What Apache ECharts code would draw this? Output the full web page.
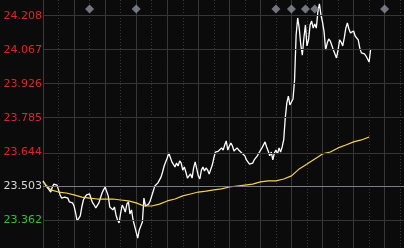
<!DOCTYPE html>
<html>
<head>
<meta charset="utf-8">
<script src="https://cdn.jsdelivr.net/npm/echarts@6/dist/echarts.min.js"></script>
<style>
html,body{margin:0;padding:0;background:#0b0b0b;}
#c{width:404px;height:248px;}
</style>
</head>
<body>
<div id="c"></div>
<script>
// Reference (previous close) price
const prevClose = 23.503;
// Y-axis tick labels
const yTicks = [24.208, 24.067, 23.926, 23.785, 23.644, 23.503, 23.362];
// Price per minute (minute 0 .. 211)
const priceValues = [
23.524,23.516,23.503,23.495,23.487,23.478,23.499,23.511,23.516,23.507,
23.487,23.466,23.453,23.445,23.457,23.449,23.453,23.437,23.441,23.433,
23.420,23.391,23.358,23.350,23.379,23.416,23.445,23.457,23.466,23.474,
23.470,23.449,23.433,23.424,23.412,23.404,23.433,23.453,23.474,23.487,
23.499,23.507,23.462,23.416,23.408,23.404,23.416,23.383,23.362,23.350,
23.391,23.424,23.412,23.395,23.428,23.437,23.387,23.404,23.362,23.337,
23.312,23.287,23.321,23.337,23.354,23.453,23.420,23.412,23.428,23.441,
23.449,23.482,23.503,23.503,23.516,23.524,23.540,23.561,23.586,23.603,
23.619,23.640,23.636,23.603,23.598,23.582,23.598,23.586,23.607,23.598,
23.569,23.582,23.561,23.536,23.528,23.553,23.536,23.578,23.603,23.603,
23.545,23.532,23.569,23.582,23.565,23.578,23.569,23.553,23.561,23.590,
23.619,23.644,23.652,23.648,23.640,23.661,23.652,23.673,23.690,23.652,
23.669,23.681,23.669,23.648,23.640,23.661,23.652,23.644,23.640,23.632,
23.628,23.611,23.611,23.594,23.586,23.598,23.611,23.619,23.628,23.640,
23.644,23.661,23.669,23.686,23.665,23.648,23.628,23.644,23.611,23.640,
23.652,23.636,23.661,23.644,23.665,23.694,23.785,23.847,23.876,23.839,
23.835,23.864,23.943,24.129,24.200,24.158,24.088,24.046,24.117,24.171,
24.084,24.109,24.171,24.187,24.158,24.175,24.158,24.225,24.258,24.212,
24.183,24.142,24.067,24.096,24.113,24.104,24.096,24.067,24.059,24.034,
24.067,24.109,24.100,24.084,24.117,24.158,24.179,24.154,24.138,24.133,
24.146,24.125,24.117,24.109,24.075,24.055,24.063,24.051,24.042,24.038,
24.017,24.071
];
// Average price, read every 5 minutes
const avgMinutes = [0,5,10,15,20,25,30,35,40,45,50,55,60,65,70,75,80,85,90,95,100,
  105,110,115,120,125,130,135,140,145,150,155,160,165,170,175,180,185,190,195,200,205,210];
const avgValues = [23.520,23.487,23.478,23.474,23.466,23.457,23.453,23.449,23.449,23.449,23.445,
  23.441,23.433,23.420,23.420,23.428,23.441,23.449,23.462,23.470,23.478,
  23.482,23.487,23.491,23.499,23.503,23.507,23.511,23.520,23.524,23.524,
  23.532,23.545,23.574,23.594,23.615,23.636,23.644,23.661,23.673,23.686,23.694,23.706];
// Event markers (minute)
const eventMinutes = [30, 60, 150, 160, 169, 175, 220];
const eventLevel = 24.237;

const chart = echarts.init(document.getElementById('c'), null, {renderer: 'canvas'});
const font = 'DejaVu Sans';
const option = {
  animation: false,
  backgroundColor: '#0b0b0b',
  grid: {left: 43, top: 0, width: 372.7, height: 248, containLabel: false, outerBoundsMode: 'none'},
  xAxis: [
    {type: 'value', min: 0, max: 240, interval: 20,
     axisLine: {show: false}, axisTick: {show: false}, axisLabel: {show: false},
     splitLine: {show: true, lineStyle: {color: '#363636', width: 1, type: 'solid'}}},
    {type: 'value', min: 0, max: 240, interval: 10, position: 'bottom',
     axisLine: {show: false}, axisTick: {show: false}, axisLabel: {show: false},
     splitLine: {show: true, lineStyle: {color: '#3a3a3a', width: 1, type: [1, 2]}}}
  ],
  yAxis: {
    type: 'value', min: 23.2459, max: 24.2744,
    axisLine: {show: true, lineStyle: {color: '#3a3a3a'}},
    axisTick: {show: false},
    splitLine: {show: false},
    axisLabel: {
      customValues: yTicks,
      margin: 1,
      fontFamily: font, fontSize: 11,
      formatter: v => v.toFixed(3),
      color: v => {
        const d = Math.round((v - prevClose) * 1000);
        return d > 0 ? '#e0252a' : (d < 0 ? '#2fc42f' : '#d8d8d8');
      }
    }
  },
  series: [
    {type: 'line', data: [], silent: true, z: 1,
     markLine: {silent: true, symbol: 'none', animation: false, label: {show: false},
       data: yTicks.map(v => ({yAxis: v, lineStyle: {color: v === prevClose ? '#7c7c82' : '#363636', width: 1, type: 'solid'}}))}},
    {type: 'line', name: 'price', showSymbol: false, z: 3,
     data: priceValues.map((v, i) => [i, v]),
     lineStyle: {color: '#ffffff', width: 1.3}, itemStyle: {color: '#ffffff'}},
    {type: 'line', name: 'avg', showSymbol: false, z: 4,
     data: avgMinutes.map((m, i) => [m, avgValues[i]]),
     lineStyle: {color: '#f2d24c', width: 1.2}, itemStyle: {color: '#f2d24c'}},
    {type: 'scatter', name: 'events', symbol: 'diamond', symbolSize: 9, z: 5,
     data: eventMinutes.map(m => [m, eventLevel]),
     itemStyle: {color: '#8a909c'}}
  ]
};
chart.setOption(option);
</script>
</body>
</html>
